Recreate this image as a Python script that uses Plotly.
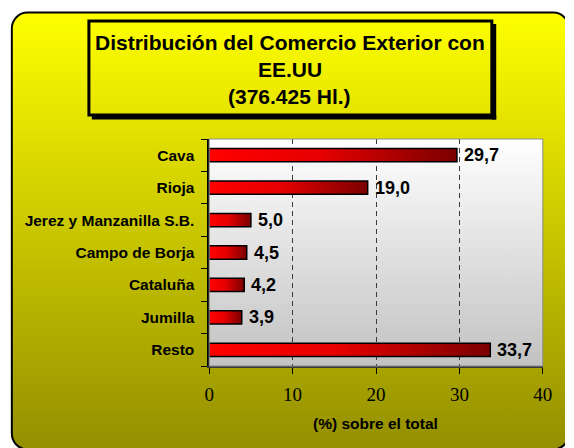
import base64
import plotly.graph_objects as go

# Wine denominations and their share of exports to the USA (%)
categories = ["Cava", "Rioja", "Jerez y Manzanilla S.B.", "Campo de Borja",
              "Cataluña", "Jumilla", "Resto"]
shares = [29.7, 19.0, 5.0, 4.5, 4.2, 3.9, 33.7]
x_ticks = [0, 10, 20, 30, 40]
title_lines = ["Distribución del Comercio Exterior con", "EE.UU", "(376.425 Hl.)"]
x_title = "(%) sobre el total"

W, H = 574, 448
SANS = "Arial, Liberation Sans, sans-serif"
SERIF = "Times New Roman, Liberation Serif, serif"


def px(x):
    return x / W


def py(y):
    return 1 - y / H


def svg_uri(svg):
    return "data:image/svg+xml;base64," + base64.b64encode(svg.encode()).decode()


# yellow rounded panel behind the whole chart
panel_svg = (
    f"<svg xmlns='http://www.w3.org/2000/svg' width='{W}' height='{H}' viewBox='0 0 {W} {H}'>"
    "<defs><linearGradient id='g' gradientUnits='userSpaceOnUse' x1='0' y1='12' x2='0' y2='448'>"
    "<stop offset='0' stop-color='#FFFF00'/><stop offset='1' stop-color='#948F00'/>"
    "</linearGradient></defs>"
    "<rect x='7' y='12.5' width='571' height='437' rx='16' ry='16' fill='url(#g)' "
    "stroke='#000' stroke-width='2'/></svg>"
)

# white-to-grey plot area
plot_svg = (
    "<svg xmlns='http://www.w3.org/2000/svg' width='100' height='100' viewBox='0 0 100 100' "
    "preserveAspectRatio='none'>"
    "<defs><linearGradient id='p' x1='0' y1='0' x2='0' y2='1'>"
    "<stop offset='0' stop-color='#FFFFFF'/><stop offset='1' stop-color='#C2C2C2'/>"
    "</linearGradient></defs><rect width='100' height='100' fill='url(#p)'/></svg>"
)

fig = go.Figure()

half = 0.205
for i, (cat, v) in enumerate(zip(categories, shares)):
    fig.add_trace(go.Scatter(
        x=[0, v, v, 0, 0],
        y=[i - half, i - half, i + half, i + half, i - half],
        mode="lines",
        fill="toself",
        fillgradient=dict(type="horizontal",
                          colorscale=[[0, "#FF0000"], [0.45, "#E60000"], [1, "#7A0000"]]),
        line=dict(color="black", width=1.5),
        name=cat,
        showlegend=False,
        hoverinfo="skip",
    ))

annotations = []
for i, v in enumerate(shares):
    annotations.append(dict(
        x=v, y=i, xref="x", yref="y",
        text=f"{v:.1f}".replace(".", ","),
        showarrow=False, xanchor="left", yanchor="middle", xshift=5,
        font=dict(family=SANS, size=18, color="black", weight="bold"),
    ))

for line, yc in zip(title_lines, [42, 69, 96]):
    annotations.append(dict(
        x=px(292), y=py(yc), xref="paper", yref="paper",
        text=line, showarrow=False, xanchor="center", yanchor="middle",
        font=dict(family=SANS, size=21, color="black", weight="bold"),
    ))

annotations.append(dict(
    x=px(380), y=py(423), xref="paper", yref="paper",
    text=x_title, showarrow=False, xanchor="center", yanchor="middle",
    font=dict(family=SANS, size=15.5, color="black", weight="bold"),
))

shapes = [
    # title box shadow
    dict(type="rect", xref="paper", yref="paper",
         x0=px(499), x1=px(503.5), y0=py(24), y1=py(119.5),
         fillcolor="black", line=dict(width=0)),
    dict(type="rect", xref="paper", yref="paper",
         x0=px(89), x1=px(503.5), y0=py(115), y1=py(119.5),
         fillcolor="black", line=dict(width=0)),
    # title box frame
    dict(type="rect", xref="paper", yref="paper",
         x0=px(86), x1=px(499), y0=py(21), y1=py(115),
         fillcolor="rgba(0,0,0,0)", line=dict(color="black", width=3)),
    # plot frame
    dict(type="rect", xref="x domain", yref="y domain",
         x0=0, x1=1, y0=0, y1=1, layer="above",
         fillcolor="rgba(0,0,0,0)", line=dict(color="#8C8C8C", width=1)),
]

fig.update_layout(
    width=W, height=H,
    autosize=False,
    margin=dict(l=0, r=0, t=0, b=0),
    paper_bgcolor="white",
    plot_bgcolor="rgba(0,0,0,0)",
    images=[
        dict(source=svg_uri(panel_svg), xref="paper", yref="paper",
             x=0, y=1, sizex=1, sizey=1, xanchor="left", yanchor="top",
             sizing="stretch", layer="below"),
        dict(source=svg_uri(plot_svg), xref="x domain", yref="y domain",
             x=0, y=1, sizex=1, sizey=1, xanchor="left", yanchor="top",
             sizing="stretch", layer="below"),
    ],
    shapes=shapes,
    annotations=annotations,
    xaxis=dict(
        domain=[px(209.3), px(551.3)],
        range=[0, 40], fixedrange=True,
        tickmode="array", tickvals=x_ticks,
        ticks="outside", ticklen=6, tickwidth=1, tickcolor="black",
        tickfont=dict(family=SERIF, size=19, color="black"),
        ticklabelstandoff=4,
        showline=True, linecolor="#3A3A3A", linewidth=2,
        showgrid=True, gridcolor="#3A3A3A", gridwidth=1, griddash="5px,4px",
        zeroline=False,
    ),
    yaxis=dict(
        domain=[py(366), py(139)],
        range=[6.5, -0.5], fixedrange=True,
        tickmode="array", tickvals=list(range(len(categories))), ticktext=categories,
        ticks="",
        minor=dict(tickmode="array",
                   tickvals=[k - 0.5 for k in range(len(categories) + 1)],
                   ticks="outside", ticklen=6, tickwidth=1, tickcolor="black",
                   showgrid=False),
        tickfont=dict(family=SANS, size=15.5, color="black", weight="bold"),
        ticklabelstandoff=10,
        showline=True, linecolor="black", linewidth=1.5,
        showgrid=False, zeroline=False,
    ),
    showlegend=False,
)

fig.write_html(
    "out.html",
    config={"responsive": False, "displayModeBar": False},
    post_script="document.body.style.margin='0';document.body.style.overflow='hidden';",
)
